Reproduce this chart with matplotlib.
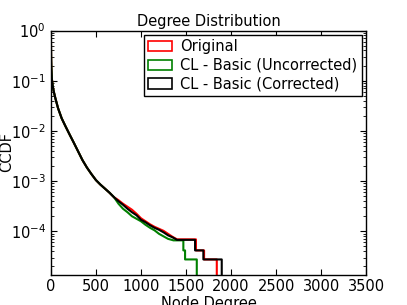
import matplotlib
matplotlib.use("Agg")
import matplotlib.pyplot as plt
from matplotlib.patches import Patch
import numpy as np

# degree values and log10(CCDF)
head_deg = [0, 1, 2, 3, 5, 10, 20, 30, 50, 80, 120, 160, 210, 250, 300, 350, 400,
            450, 500, 550, 600, 650, 700]
head_log = [0.0, -0.2, -0.45, -0.6, -0.75, -0.95, -1.1, -1.2, -1.35, -1.55, -1.75,
            -1.9, -2.08, -2.22, -2.4, -2.58, -2.73, -2.86, -2.98, -3.07, -3.15,
            -3.23, -3.32]

orig_deg = [750, 800, 850, 900, 950, 1000, 1050, 1100, 1150, 1200, 1250, 1300,
            1350, 1400, 1610, 1610, 1700, 1700, 1841, 1841]
orig_log = [-3.38, -3.45, -3.51, -3.57, -3.65, -3.74, -3.8, -3.86, -3.91, -3.95,
            -3.99, -4.05, -4.11, -4.16, -4.16, -4.38, -4.38, -4.56, -4.56, -6.0]

uncorr_deg = [750, 800, 850, 900, 950, 1000, 1050, 1100, 1150, 1200, 1250, 1300,
              1360, 1470, 1470, 1489, 1489, 1619, 1619]
uncorr_log = [-3.45, -3.55, -3.62, -3.7, -3.75, -3.8, -3.87, -3.93, -3.98, -4.05,
              -4.1, -4.15, -4.18, -4.18, -4.38, -4.38, -4.56, -4.56, -6.0]

corr_deg = [750, 800, 850, 900, 950, 1000, 1050, 1100, 1150, 1200, 1250, 1300,
            1350, 1400, 1600, 1600, 1692, 1692, 1896, 1896]
corr_log = [-3.4, -3.47, -3.55, -3.62, -3.68, -3.77, -3.82, -3.88, -3.93, -3.97,
            -4.02, -4.08, -4.12, -4.17, -4.17, -4.38, -4.38, -4.56, -4.56, -6.0]

labels = ["Original", "CL - Basic (Uncorrected)", "CL - Basic (Corrected)"]
colors = ["red", "green", "black"]

fig = plt.figure(figsize=(4.07, 3.05), dpi=100)
ax = fig.add_axes([0.125, 0.1, 0.775, 0.8])

series = [(orig_deg, orig_log), (uncorr_deg, uncorr_log), (corr_deg, corr_log)]
for (d, lg), c in zip(series, colors):
    x = np.array(head_deg + d)
    y = 10.0 ** np.array(head_log + lg)
    ax.plot(x, y, color=c, lw=1.5)

ax.set_yscale("log")
ax.set_xlim(0, 3500)
ax.set_ylim(1.38e-5, 1)
ax.set_xticks(np.arange(0, 3501, 500))
ax.tick_params(which="both", direction="in", top=True, right=True, labelsize=10.5)
ax.tick_params(which="major", length=4)
ax.tick_params(which="minor", length=2)
for s in ax.spines.values():
    s.set_linewidth(1.0)

ax.set_title("Degree Distribution", fontsize=10.5, pad=3)
ax.set_xlabel("Node Degree", fontsize=10.5, labelpad=1)
ax.set_ylabel("CCDF", fontsize=10.5)
ax.yaxis.set_label_coords(-0.117, 0.5)

handles = [Patch(facecolor="white", edgecolor=c, lw=1.2) for c in colors]
leg = ax.legend(handles, labels, loc="upper right", fontsize=10.5, fancybox=False,
                framealpha=1, borderaxespad=0.3, handlelength=1.6, handletextpad=0.6,
                labelspacing=0.25, borderpad=0.3)
leg.get_frame().set_edgecolor("black")

fig.savefig("out.png", dpi=100, facecolor="white")
